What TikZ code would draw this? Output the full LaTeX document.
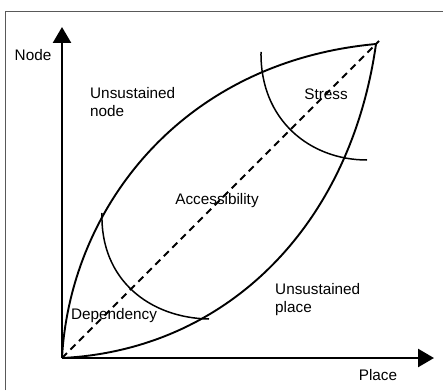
\documentclass[tikz,border=0pt]{standalone}
\usepackage{fontspec}
\setmainfont{Liberation Sans}
\usetikzlibrary{arrows.meta}
\begin{document}
\begin{tikzpicture}[x=1pt,y=-1pt,font=\fontsize{15.3}{18}\selectfont,
  axis/.style={line width=2.6pt,-{Triangle[length=16pt,width=18pt]}},
  bound/.style={line width=1.9pt},
  zone/.style={line width=1.5pt},
  lbl/.style={inner sep=0pt,align=left}]
\useasboundingbox (0,0) rectangle (443,390);
\draw[gray!70!black,line width=0.9pt] (5,390) -- (5,11) -- (443,11);
\coordinate (o) at (62,358); \coordinate (yend) at (62,27); \coordinate (xend) at (434,358);
\coordinate (apex) at (376,44); \coordinate (dend) at (379,41);
\draw[axis] (o) -- (yend); \draw[axis] (o) -- (xend);
% the two bounding curves and the diagonal
\draw[bound] (o) .. controls (70,210) and (180,62) .. (apex);
\draw[bound] (o) .. controls (225,350) and (350,228) .. (apex);
\draw[bound,dash pattern=on 7pt off 5pt] (o) -- (dend);
% regions near both ends
\coordinate (d0) at (102,213); \coordinate (d1) at (209,319);
\coordinate (s0) at (261,52); \coordinate (s1) at (367,160);
\draw[zone] (d0) .. controls (100,280) and (150,318) .. (d1);
\draw[zone] (s0) .. controls (260,120) and (310,160) .. (s1);
\node[lbl] (ynode) at (33,55) {Node};
\node[lbl] (xplace) at (378,375) {Place};
\node[lbl,anchor=west] (unode) at (90,102) {Unsustained\\node};
\node[lbl,anchor=west] (uplace) at (275,300) {Unsustained\\place};
\node[lbl] (stress) at (326,94) {Stress};
\node[lbl] (access) at (217,201) {Accessibility};
\node[lbl] (dep) at (114,316) {Dependency};
\end{tikzpicture}
\end{document}
